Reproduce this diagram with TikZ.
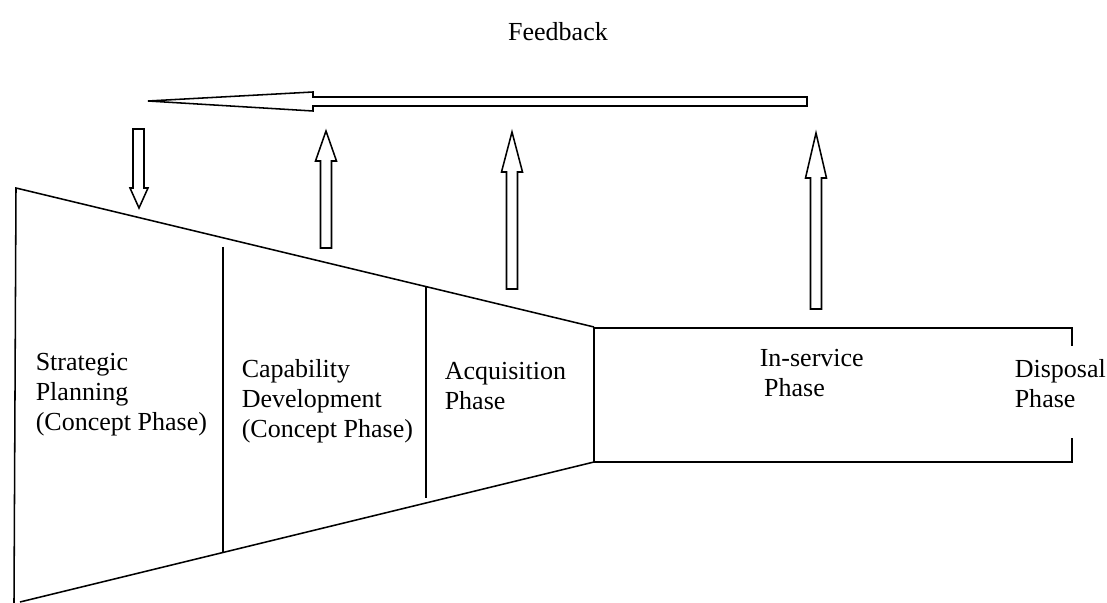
\documentclass[tikz,border=0pt]{standalone}
\usepackage{fontspec}
\setmainfont{Liberation Serif}

\begin{document}
\begin{tikzpicture}[x=0.025cm,y=-0.025cm,line width=1.1pt,
  phase/.style={anchor=west,align=left,inner sep=0pt,font=\fontsize{18.5}{21.3}\selectfont}]
\useasboundingbox (0,0) rectangle (1107,603);
% funnel
\draw (594,327) -- (16,188) -- (14,603);
\draw (20,602) -- (594,462);
\draw (223,247) -- (223,553);
\draw (426,287) -- (426,498);
% in-service box
\draw (1072,346) -- (1072,328) -- (594,328) -- (594,462) -- (1072,462) -- (1072,438);
% feedback arrow
\draw (807,97) -- (313,97) -- (313,92) -- (148,101) -- (313,111) -- (313,106) -- (807,106) -- cycle;
\draw (133,129) -- (144,129) -- (144,188) -- (148,188) -- (139,208) -- (130,188) -- (133,188) -- cycle;
\foreach \x/\t/\h/\b in {326/131/161/248, 512/132/172/289, 816/133/178/309}
{
\draw (\x-5.5,\b) -- (\x-5.5,\h) -- (\x-10.5,\h) -- (\x,\t) -- (\x+10.5,\h) -- (\x+5.5,\h) -- (\x+5.5,\b) -- cycle;
}
% labels
\node[phase,anchor=center] (feedback) at (558,32) {Feedback};
\node[phase] (strategic) at (35,395) {Strategic\\Planning\\(Concept Phase)};
\node[phase] (capability) at (241,401) {Capability\\Development\\(Concept Phase)};
\node[phase] (acquisition) at (444,386) {Acquisition\\Phase};
\node[phase] (inservice) at (759,373) {In-service\\\,Phase};
\node[phase] (disposal) at (1014,384) {Disposal\\Phase};
\end{tikzpicture}
\end{document}
